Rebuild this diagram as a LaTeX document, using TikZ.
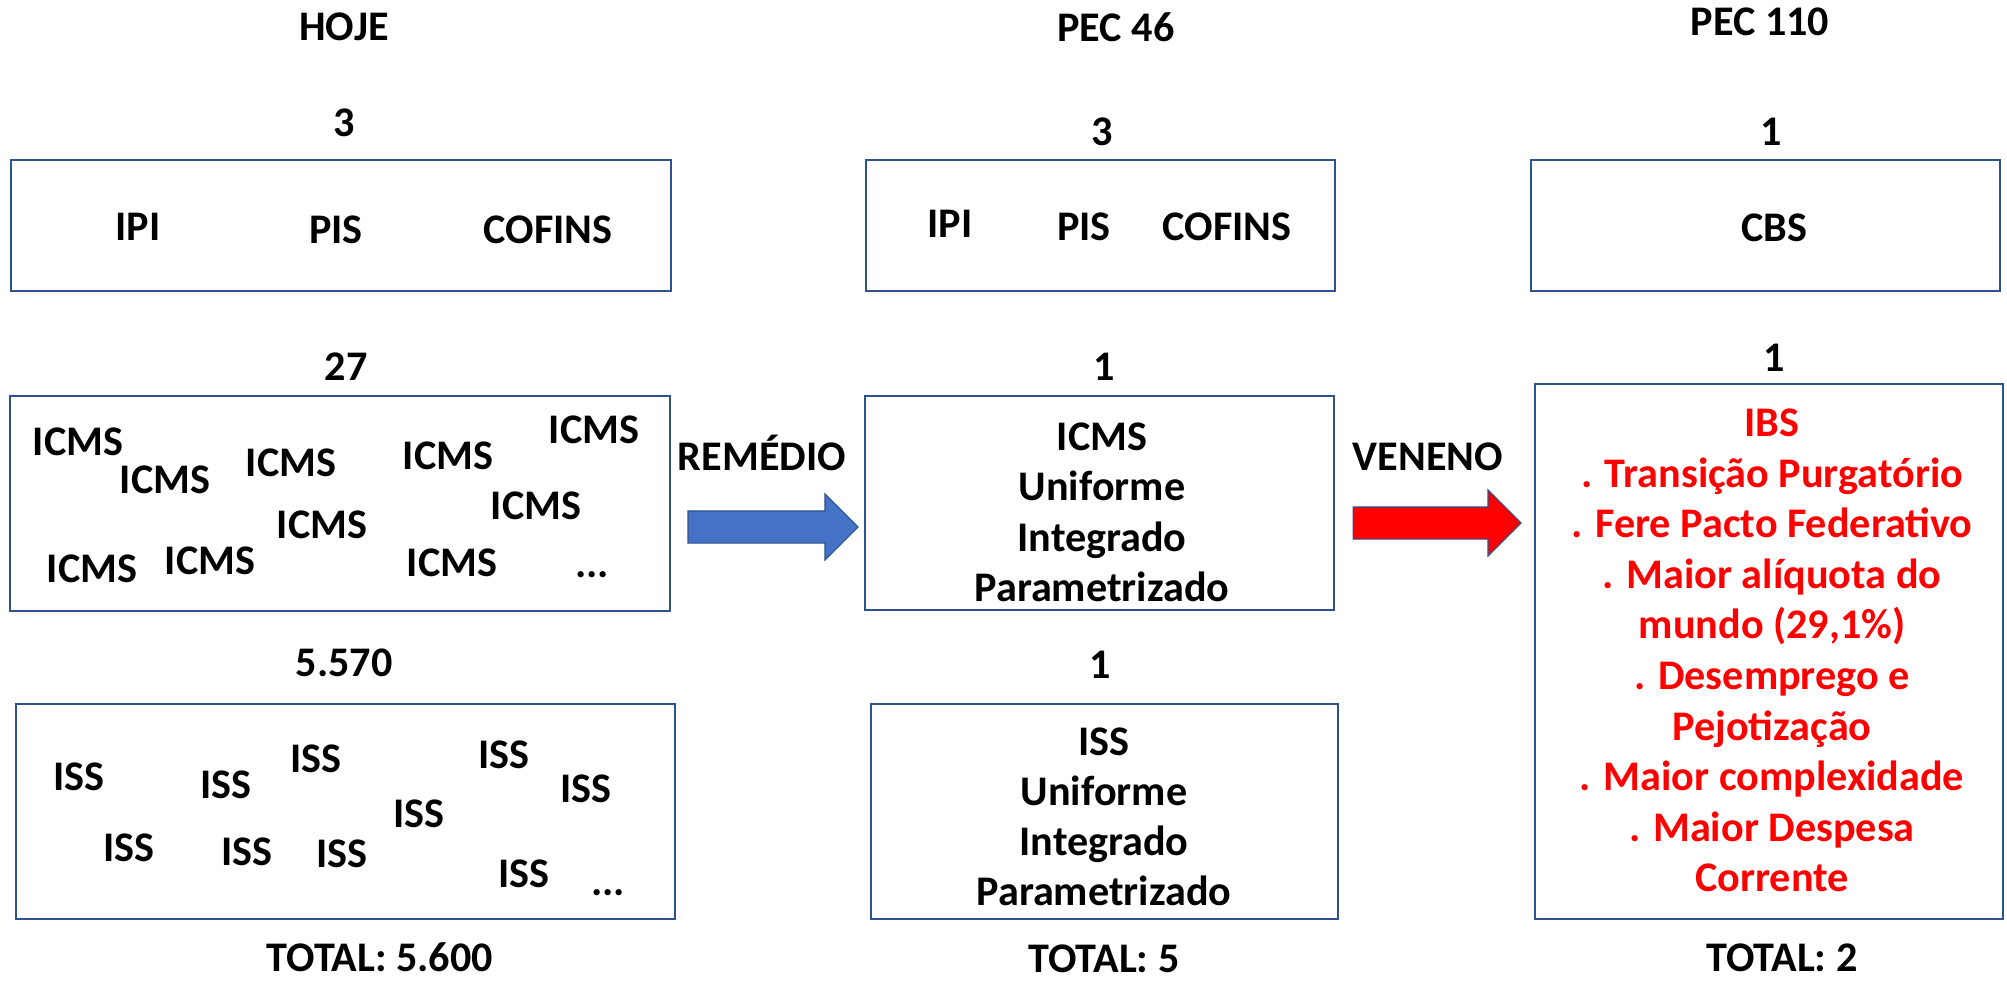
\documentclass[tikz,border=0pt]{standalone}
\usepackage{fontspec}
\setmainfont{Carlito}
\usepackage{tikz}
\usetikzlibrary{shapes.arrows}

\definecolor{boxline}{HTML}{2F528F}
\definecolor{remedio}{HTML}{4472C4}
\definecolor{veneno}{HTML}{FF0000}
\newcommand\fnt{\fontsize{60}{72}\selectfont\bfseries}

\begin{document}
\begin{tikzpicture}[x=0.5mm, y=-0.5mm,
		every node/.style={inner sep=0pt, font=\fnt},
		lbl/.style={text height=13.5mm, text depth=0pt},
		box/.style={draw=boxline, line width=2.5pt},
		seta/.style={single arrow, single arrow head extend=8.5mm, inner xsep=0pt, inner ysep=7.75mm, minimum height=#1, draw=boxline, line width=1.5pt}]
		\useasboundingbox (0,0) rectangle (2007,981);
		% titulos
		\node[lbl] (hoje) at (344,27) {HOJE};
		\node[lbl] (pec46) at (1116,28) {PEC 46};
		\node[lbl] (pec110) at (1760,22) {PEC 110};
		% HOJE
		\node[lbl] (n1) at (344,123) {3};
		\node[box, minimum width=330mm, minimum height=65.5mm] (h1) at (341,225.5) {};
		\node[lbl] (ipi) at (138,227) {IPI};
		\node[lbl] (pis) at (336,230) {PIS};
		\node[lbl] (cofins) at (548,230) {COFINS};
		\node[lbl] (n2) at (346,367) {27};
		\node[box, minimum width=330mm, minimum height=107.5mm] (h2) at (340,503.5) {};
		\foreach \x/\y [count=\i] in {78/442, 165/480, 291/463, 448/456, 594/430, 536/506, 322/525, 92/569, 210/561, 452/563}
			\node[lbl] (icms\i) at (\x,\y) {ICMS};
		\node[lbl] (etc1) at (592,564) {...};
		\node[lbl] (n3) at (344,663) {5.570};
		\node[box, minimum width=329.5mm, minimum height=107.5mm] (h3) at (345.5,811.5) {};
		\foreach \x/\y [count=\i] in {79/777, 226/785, 316/759, 504/755, 586/789, 419/814, 129/848, 247/852, 342/854, 524/874}
			\node[lbl] (iss\i) at (\x,\y) {ISS};
		\node[lbl] (etc2) at (608,882) {...};
		\node[lbl] (tot1) at (380,958) {TOTAL: 5.600};
		% PEC 46
		\node[lbl] (m0) at (1102,132) {3};
		\node[box, minimum width=234.5mm, minimum height=65.5mm] (m1) at (1100.5,225.5) {};
		\node[lbl] (ipi2) at (950,224) {IPI};
		\node[lbl] (pis2) at (1084,227) {PIS};
		\node[lbl] (cofins2) at (1227,227) {COFINS};
		\node[lbl] (mn2) at (1104,367) {1};
		\node[box, minimum width=234.5mm, minimum height=107mm] (m2) at (1099.5,503) {};
		\foreach \t [count=\i from 0] in {ICMS, Uniforme, Integrado, Parametrizado}
			\node[lbl] (mi\i) at (1102,437+50.3*\i) {\t};
		\node[lbl] (mn3) at (1100,665) {1};
		\node[box, minimum width=233.5mm, minimum height=107.5mm] (m3) at (1104.5,811.5) {};
		\foreach \t [count=\i from 0] in {ISS, Uniforme, Integrado, Parametrizado}
			\node[lbl] (ms\i) at (1104,742+50*\i) {\t};
		\node[lbl] (tot2) at (1104,959) {TOTAL: 5};
		% PEC 110
		\node[lbl] (r0) at (1771,132) {1};
		\node[box, minimum width=234.5mm, minimum height=65.5mm] (r1) at (1765.5,225.5) {};
		\node[lbl] (cbs) at (1774,228) {CBS};
		\node[lbl] (rn2) at (1774,358) {1};
		\node[box, minimum width=234mm, minimum height=267.5mm] (r2) at (1769,651.5) {};
		\foreach \t [count=\i from 0] in {IBS, . Transição Purgatório, . Fere Pacto Federativo, . Maior alíquota do, {mundo (29,1\%)}, . Desemprego e, Pejotização, . Maior complexidade, . Maior Despesa, Corrente}
			\node[lbl, text=veneno] (ibs\i) at (1772,423+50.6*\i) {\t};
		\node[lbl] (tot3) at (1782,958) {TOTAL: 2};
		% setas
		\node[lbl] (rem) at (762,457) {REMÉDIO};
		\node[seta=85mm, fill=remedio] (azul) at (765,527) {};
		\node[lbl] (ven) at (1428,457) {VENENO};
		\node[seta=84mm, fill=veneno] (verm) at (1429,523) {};
	\end{tikzpicture}
\end{document}
